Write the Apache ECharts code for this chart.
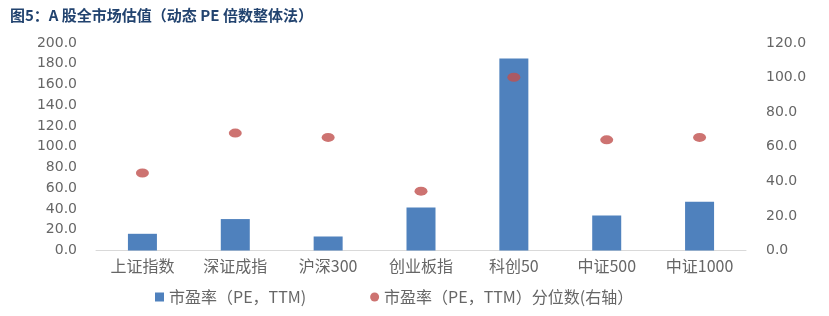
<!DOCTYPE html>
<html>
<head>
<meta charset="utf-8">
<script src="https://cdn.jsdelivr.net/npm/echarts@6/dist/echarts.min.js"></script>
<style>
html,body{margin:0;padding:0;background:#fff;}
#c{width:829px;height:316px;}
</style>
</head>
<body>
<div id="c"></div>
<script>
const titleText = '图5：A 股全市场估值（动态 PE 倍数整体法）';
const categories = ['上证指数', '深证成指', '沪深300', '创业板指', '科创50', '中证500', '中证1000'];
const peValues = [16.1, 30.3, 13.5, 41.5, 185.0, 33.8, 47.0];
const pePercentile = [44.8, 67.9, 65.4, 34.3, 100.2, 64.0, 65.4];
const seriesNames = ['市盈率（PE，TTM)', '市盈率（PE，TTM）分位数(右轴）'];

const chart = echarts.init(document.getElementById('c'));
const numFmt = v => v.toFixed(1);
chart.setOption({
  animation: false,
  backgroundColor: '#ffffff',
  title: {
    text: titleText,
    left: 5, top: 3,
    textStyle: {fontFamily: 'Noto Sans CJK SC', fontSize: 15, fontWeight: 'bold', color: '#22436f'}
  },
  legend: {
    left: 150, top: 284,
    itemGap: 64, itemWidth: 9, itemHeight: 9,
    textStyle: {fontFamily: 'Noto Sans CJK SC', fontSize: 16, color: '#666666'},
    data: [
      {name: seriesNames[0], icon: 'rect'},
      {name: seriesNames[1], icon: 'circle'}
    ]
  },
  grid: {left: 96, right: 83, top: 43, bottom: 65.5},
  xAxis: {
    type: 'category',
    data: categories,
    axisLine: {lineStyle: {color: '#d9d9d9', width: 1}},
    axisTick: {show: false},
    axisLabel: {fontFamily: 'Noto Sans CJK SC', fontSize: 16, color: '#666666', margin: 7, interval: 0}
  },
  yAxis: [
    {
      type: 'value', min: 0, max: 200, interval: 20,
      splitLine: {show: false}, axisLine: {show: false}, axisTick: {show: false},
      axisLabel: {formatter: numFmt, fontFamily: 'DejaVu Sans', fontSize: 14, color: '#666666', margin: 19}
    },
    {
      type: 'value', min: 0, max: 120, interval: 20,
      splitLine: {show: false}, axisLine: {show: false}, axisTick: {show: false},
      axisLabel: {formatter: numFmt, fontFamily: 'DejaVu Sans', fontSize: 14, color: '#666666', margin: 20}
    }
  ],
  series: [
    {
      name: seriesNames[0], type: 'bar', data: peValues, barWidth: 29,
      itemStyle: {color: '#4f81bd'}
    },
    {
      name: seriesNames[1], type: 'scatter', yAxisIndex: 1, data: pePercentile,
      symbol: 'circle', symbolSize: [13, 9],
      itemStyle: {color: '#c0504d'}
    }
  ]
});
</script>
</body>
</html>
